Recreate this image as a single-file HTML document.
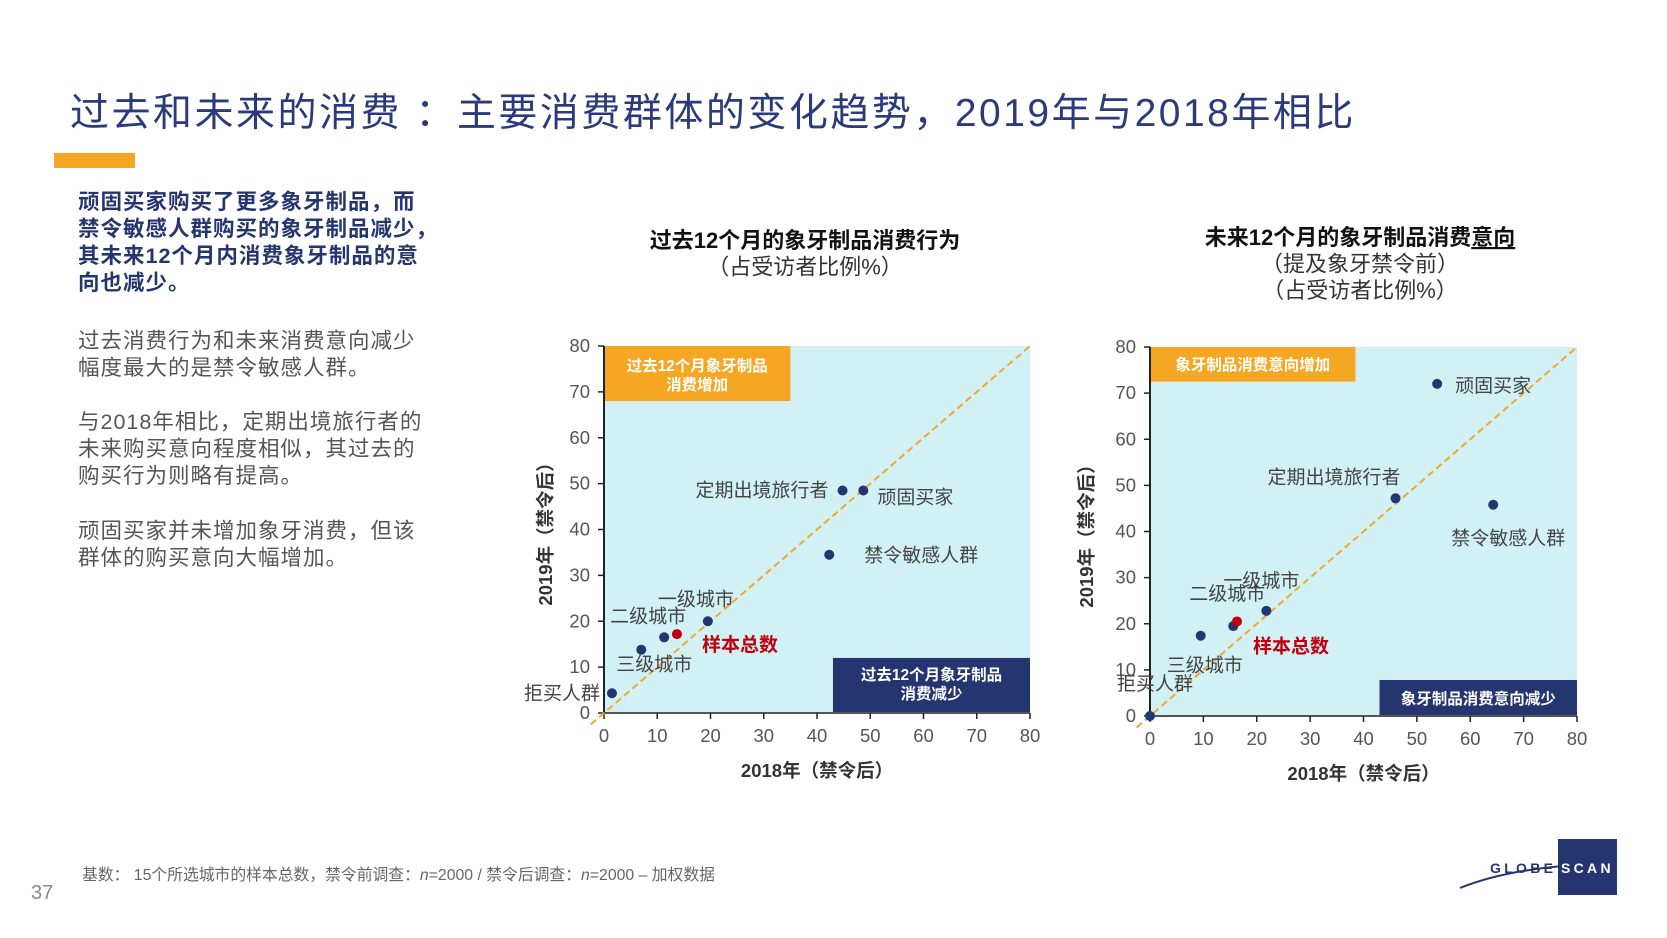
<!DOCTYPE html>
<html><head><meta charset="utf-8"><style>
body{margin:0;background:#fff;width:1667px;height:938px;overflow:hidden;font-family:"Liberation Sans","Noto Sans CJK SC",sans-serif}
svg text{font-family:"Liberation Sans","Noto Sans CJK SC",sans-serif}
.p{position:absolute;left:78px;width:420px;font-size:21.5px;line-height:27px;color:#555;letter-spacing:1px;white-space:nowrap}
</style></head><body>
<div style="position:absolute;left:70px;top:82px;font-size:39px;letter-spacing:2.5px;color:#2b3a7a;white-space:nowrap">过去和未来的消费 ：主要消费群体的变化趋势，2019年与2018年相比</div>
<div style="position:absolute;left:54px;top:153px;width:81px;height:15px;background:#f5a623"></div>
<div class="p" style="top:189px;color:#253570;font-weight:bold">顽固买家购买了更多象牙制品，而<br>禁令敏感人群购买的象牙制品减少，<br>其未来12个月内消费象牙制品的意<br>向也减少。</div>
<div class="p" style="top:328px">过去消费行为和未来消费意向减少<br>幅度最大的是禁令敏感人群。</div>
<div class="p" style="top:409px">与2018年相比，定期出境旅行者的<br>未来购买意向程度相似，其过去的<br>购买行为则略有提高。</div>
<div class="p" style="top:518px">顽固买家并未增加象牙消费，但该<br>群体的购买意向大幅增加。</div>
<div style="position:absolute;left:82px;top:862px;font-size:15.8px;color:#666;white-space:nowrap">基数： 15个所选城市的样本总数，禁令前调查：<i>n</i>=2000 / 禁令后调查：<i>n</i>=2000 – 加权数据</div>
<div style="position:absolute;left:31px;top:882px;font-size:20px;color:#888">37</div>
<svg id="s" width="1667" height="938" style="position:absolute;left:0;top:0">
<g>
<rect x="1558" y="839" width="59" height="56" fill="#253570"/>
<path d="M1460 888 Q1520 864 1617 864" stroke="#253570" stroke-width="2" fill="none"/>
<text x="1490" y="873" font-size="14" letter-spacing="3.3" fill="#253570" font-weight="bold">GLOBE</text>
<text x="1561" y="873" font-size="14" letter-spacing="3.3" fill="#fff" font-weight="bold">SCAN</text>
</g>
</svg>
<script>
const ticks=[0,10,20,30,40,50,60,70,80];
const names=["拒买人群","三级城市","二级城市","样本总数","一级城市","定期出境旅行者","顽固买家","禁令敏感人群"];
const pastX=[1.5,7,11.3,13.7,19.5,44.8,48.7,42.3];
const pastY=[4.3,13.8,16.5,17.2,20,48.5,48.5,34.5];
const futX=[0,9.5,15.6,16.3,21.8,46.0,53.8,64.3];
const futY=[0,17.4,19.5,20.5,22.8,47.2,72.0,45.8];
const NS="http://www.w3.org/2000/svg",svg=document.getElementById('s');
function mk(t,a,p,txt){const e=document.createElementNS(NS,t);for(const k in a)e.setAttribute(k,a[k]);if(txt!==undefined)e.textContent=txt;(p||svg).appendChild(e);return e;}
function chart(c){
 const g=mk('g',{});
 
 
 const sx=v=>c.x0+(c.x1-c.x0)*v/80, sy=v=>c.y0-(c.y0-c.y1)*v/80;
 mk('rect',{x:sx(0),y:sy(80),width:sx(80)-sx(0),height:sy(0)-sy(80),fill:'#d2f1f5'},g);
 const ob=mk('rect',{x:sx(0),y:sy(80),width:sx(c.ob[0])-sx(0),height:sy(c.ob[1])-sy(80),fill:'#f5a623'},g);
 
 
 c.obT.forEach((t,i)=>mk('text',{x:(sx(0)+sx(c.ob[0]))/2,y:sy(80)+c.obY+i*19,'text-anchor':'middle','font-size':15.5,'font-weight':'bold',fill:'#fff'},g,t));
 const nb=mk('rect',{x:sx(c.nb[0]),y:sy(c.nb[1]),width:sx(80)-sx(c.nb[0]),height:sy(0)-sy(c.nb[1]),fill:'#253570'},g);
 
 
 c.nbT.forEach((t,i)=>mk('text',{x:(sx(c.nb[0])+sx(80))/2,y:sy(c.nb[1])+c.nbY+i*19,'text-anchor':'middle','font-size':15.5,'font-weight':'bold',fill:'#fff'},g,t));
 mk('line',{x1:sx(0),y1:sy(0),x2:sx(0),y2:sy(80),stroke:'#222','stroke-width':2},g);
 mk('line',{x1:sx(0),y1:sy(0),x2:sx(80),y2:sy(0),stroke:'#555','stroke-width':2},g);
 ticks.forEach(t=>{
  mk('line',{x1:sx(0)-6,x2:sx(0),y1:sy(t),y2:sy(t),stroke:'#222','stroke-width':1.5},g);
  mk('line',{x1:sx(t),x2:sx(t),y1:sy(0),y2:sy(0)+6,stroke:'#222','stroke-width':1.5},g);
  mk('text',{x:sx(0)-14,y:sy(t)+6,'text-anchor':'end','font-size':18.5,fill:'#555'},g,t);
  mk('text',{x:sx(t),y:sy(0)+29,'text-anchor':'middle','font-size':18.5,fill:'#555'},g,t);
 });
 const d=mk('line',{x1:sx(-2.5),y1:sy(-2.5),x2:sx(80),y2:sy(80),stroke:'#f0a830','stroke-width':2,'stroke-dasharray':'7,4'},g);
 
 
 c.xs.forEach((v,i)=>{
  const px=sx(v),py=sy(c.ys[i]),red=i===3;
  const p=mk('circle',{cx:px,cy:py,r:5,fill:red?'#c00010':'#253570'},g);
  
  
  const o=c.lab[i];
  const l=mk('text',{x:px+o[0],y:py+o[1],'text-anchor':o[2],'font-size':19,fill:red?'#c00010':'#444','font-weight':red?'bold':'normal'},g,names[i]);
  
  
 });
 mk('text',{x:(sx(0)+sx(80))/2,y:c.xlY,'text-anchor':'middle','font-size':18.5,'font-weight':'bold',fill:'#333'},g,'2018年（禁令后）');
 mk('text',{x:0,y:0,transform:`translate(${c.ylX},${(sy(0)+sy(80))/2}) rotate(-90)`,'text-anchor':'middle','font-size':18.5,'font-weight':'bold',fill:'#333'},g,'2019年（禁令后）');
 c.title.forEach((t,i)=>{const e=mk('text',{x:c.tx,y:c.ty+i*26.5,'text-anchor':'middle','font-size':22,'font-weight':i==0?'bold':'normal',fill:i==0?'#111':'#333'},g,t);if(i==0&&c.ul){e.textContent='';mk('tspan',{},e,t.slice(0,-2));mk('tspan',{'text-decoration':'underline'},e,t.slice(-2));}});
}
chart({id:'past-chart',x0:604,x1:1030,y0:713,y1:346,xs:pastX,ys:pastY,ob:[35,68],obT:['过去12个月象牙制品','消费增加'],obY:25,nb:[43,12],nbT:['过去12个月象牙制品','消费减少'],nbY:22,
 lab:[[-12,6,'end'],[-25,21,'start'],[22,-15,'end'],[25,17,'start'],[26,-16,'end'],[-14,6,'end'],[14,13,'start'],[35,7,'start']],
 xlY:777,ylX:552,tx:805,ty:248,title:['过去12个月的象牙制品消费行为','（占受访者比例%）']});
chart({id:'future-chart',x0:1150,x1:1577,y0:716,y1:347,xs:futX,ys:futY,ob:[38.5,72.5],obT:['象牙制品消费意向增加'],obY:23,nb:[43,7.8],nbT:['象牙制品消费意向减少'],nbY:24,
 lab:[[-33,-26,'start'],[-34,36,'start'],[32,-26,'end'],[16,31,'start'],[33,-24,'end'],[5,-15,'end'],[18,8,'start'],[-42,40,'start']],
 xlY:780,ylX:1093,tx:1360,ty:245,ul:true,title:['未来12个月的象牙制品消费意向','（提及象牙禁令前）','（占受访者比例%）']});
</script>
</body></html>
